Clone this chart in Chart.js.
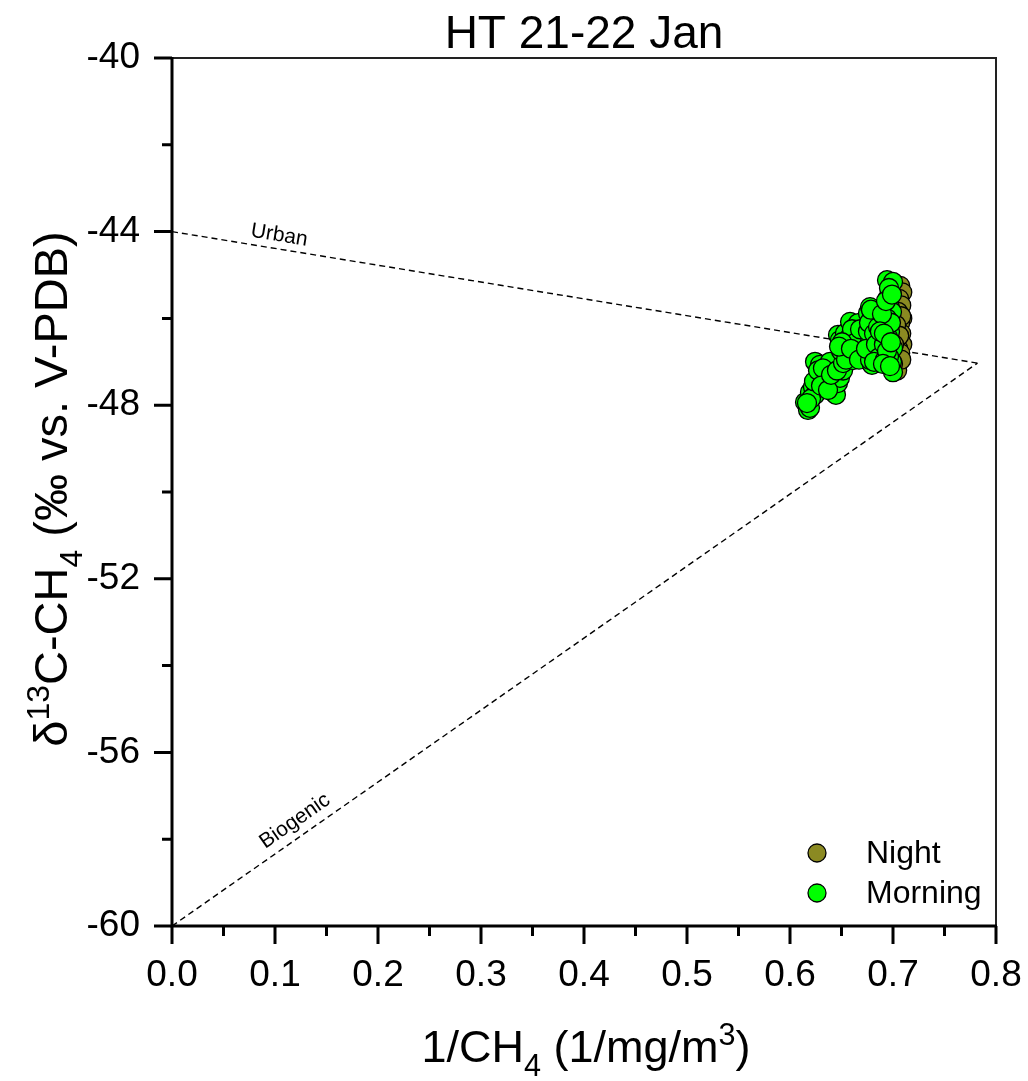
<!DOCTYPE html>
<html>
<head>
<meta charset="utf-8">
<script src="https://cdn.jsdelivr.net/npm/chart.js@4/dist/chart.umd.min.js"></script>
<style>
  html, body { margin: 0; padding: 0; background: #fff; }
  canvas { display: block; }
</style>
</head>
<body>
<canvas id="c" width="1028" height="1081"></canvas>
<script>
// ---- data ----
const chartTitle = 'HT 21-22 Jan';
const seriesNames = ['Night', 'Morning'];
const seriesColors = ['#8b8a22', '#00ff00'];

const nightX = [0.707, 0.709, 0.706, 0.708, 0.705, 0.709, 0.707, 0.704, 0.708, 0.706, 0.709, 0.705,
                0.707, 0.703, 0.706, 0.702, 0.699, 0.704, 0.708, 0.703, 0.706, 0.708, 0.701, 0.700];
const nightY = [-45.25, -45.40, -45.55, -45.70, -45.85, -46.00, -46.10, -46.25, -46.35, -46.50, -46.60, -46.70,
                -46.80, -46.90, -47.00, -47.10, -47.15, -47.20, -45.95, -46.15, -46.40, -46.95, -46.60, -47.05];

const morningX = [0.6146, 0.6175, 0.6194, 0.6194, 0.6223, 0.6243, 0.6262, 0.6243, 0.6291, 0.6291,
                  0.6340, 0.6359, 0.6388, 0.6417, 0.6446, 0.6466, 0.6485, 0.6515, 0.6437, 0.6388,
                  0.6204, 0.6165, 0.6233, 0.6272, 0.6320, 0.6301, 0.6369, 0.6398, 0.6456,
                  0.6466, 0.6485, 0.6534, 0.6583, 0.6612, 0.6631, 0.6631, 0.6566, 0.6515, 0.6660,
                  0.6612, 0.6549, 0.6709, 0.6690,
                  0.6495, 0.6544, 0.6573, 0.6602, 0.6641, 0.6680, 0.6505, 0.6476, 0.6592, 0.6670,
                  0.6757, 0.6777, 0.6796, 0.6806, 0.6777, 0.6806, 0.6796, 0.6777, 0.6757, 0.6840,
                  0.6825, 0.6845,
                  0.6738, 0.6767, 0.6816, 0.6835, 0.6855, 0.6864, 0.6786, 0.6816,
                  0.6942, 0.7000, 0.6951, 0.6971, 0.6990, 0.6942, 0.6971, 0.7000, 0.6951, 0.6990,
                  0.6961, 0.7000, 0.6912, 0.6932, 0.6980, 0.6922, 0.6893, 0.6873,
                  0.6961, 0.6932, 0.6990, 0.6912, 0.6942, 0.6980, 0.6903, 0.6971];
const morningY = [-47.93, -48.11, -48.06, -47.70, -47.58, -47.76, -47.03, -47.00, -47.07, -47.30,
                  -47.49, -47.37, -47.60, -47.70, -47.76, -47.49, -47.37, -47.20, -47.10, -47.00,
                  -47.85, -47.95, -47.45, -47.20, -47.15, -47.55, -47.65, -47.30, -47.20,
                  -46.38, -46.50, -46.34, -46.08, -46.66, -46.34, -46.77, -46.90, -47.03, -46.11,
                  -46.96, -46.60, -46.80, -46.50,
                  -46.75, -46.95, -46.45, -46.25, -46.55, -46.25, -46.55, -46.65, -46.70, -46.95,
                  -45.88, -45.74, -46.22, -45.97, -46.54, -46.66, -47.07, -46.96, -46.30, -46.08,
                  -46.80, -46.43,
                  -46.70, -46.10, -46.35, -46.60, -46.20, -46.90, -45.80, -47.00,
                  -45.12, -45.16, -45.53, -45.76, -45.85, -46.00, -46.31, -46.68, -46.43, -47.00,
                  -46.88, -47.24, -46.60, -46.20, -46.10, -46.95, -45.90, -46.30,
                  -45.30, -45.60, -45.45, -46.35, -46.75, -46.55, -47.05, -47.10];

// end-member mixing lines
const urbanX = [0, 0.782];
const urbanY = [-44, -47.03];
const biogenicX = [0, 0.782];
const biogenicY = [-60, -47.03];
const lineLabels = ['Urban', 'Biogenic'];

// axis ticks
const xTickValues = [0, 0.1, 0.2, 0.3, 0.4, 0.5, 0.6, 0.7, 0.8];
const xMinorValues = [0.05, 0.15, 0.25, 0.35, 0.45, 0.55, 0.65, 0.75];
const yTickValues = [-60, -56, -52, -48, -44, -40];
const yMinorValues = [-58, -54, -50, -46, -42];

const zip = (xs, ys) => xs.map((x, i) => ({ x: x, y: ys[i] }));

const FONT = '"Liberation Sans", Arial, Helvetica, sans-serif';

// draws a sequence of text runs (normal / sub / sup) centred on the origin
function drawRuns(ctx, runs, size, cx, cy) {
  const parts = runs.map(r => {
    const s = (r.sub || r.sup) ? size * 0.68 : size;
    ctx.font = s + 'px ' + FONT;
    return { t: r.t, s: s, w: ctx.measureText(r.t).width,
             dy: r.sub ? size * 0.32 : (r.sup ? -size * 0.38 : 0) };
  });
  const total = parts.reduce((a, p) => a + p.w, 0);
  let x = cx - total / 2;
  ctx.textAlign = 'left';
  ctx.textBaseline = 'alphabetic';
  parts.forEach(p => {
    ctx.font = p.s + 'px ' + FONT;
    ctx.fillText(p.t, x, cy + p.dy);
    x += p.w;
  });
}

const decorations = {
  id: 'decorations',
  afterDraw(chart) {
    const ctx = chart.ctx;
    const xs = chart.scales.x, ys = chart.scales.y;
    const a = chart.chartArea;
    ctx.save();
    ctx.fillStyle = '#000';

    // top and right frame
    ctx.lineWidth = 2;
    ctx.strokeStyle = '#222';
    ctx.beginPath();
    ctx.moveTo(a.left, a.top); ctx.lineTo(a.right, a.top); ctx.lineTo(a.right, a.bottom);
    ctx.stroke();

    // main axes
    ctx.strokeStyle = '#000';
    ctx.lineWidth = 3;
    ctx.beginPath();
    ctx.moveTo(a.left, a.top - 1); ctx.lineTo(a.left, a.bottom); ctx.lineTo(a.right + 1, a.bottom);
    ctx.stroke();

    // ticks (outward)
    ctx.beginPath();
    xTickValues.forEach(v => { const p = xs.getPixelForValue(v); ctx.moveTo(p, a.bottom); ctx.lineTo(p, a.bottom + 18); });
    xMinorValues.forEach(v => { const p = xs.getPixelForValue(v); ctx.moveTo(p, a.bottom); ctx.lineTo(p, a.bottom + 10); });
    yTickValues.forEach(v => { const p = ys.getPixelForValue(v); ctx.moveTo(a.left, p); ctx.lineTo(a.left - 18, p); });
    yMinorValues.forEach(v => { const p = ys.getPixelForValue(v); ctx.moveTo(a.left, p); ctx.lineTo(a.left - 10, p); });
    ctx.stroke();

    // title
    ctx.font = '46px ' + FONT;
    ctx.textAlign = 'center';
    ctx.textBaseline = 'alphabetic';
    ctx.fillText(chartTitle, (a.left + a.right) / 2, 48);

    // x axis title
    drawRuns(ctx, [{ t: '1/CH' }, { t: '4', sub: true }, { t: ' (1/mg/m' }, { t: '3', sup: true }, { t: ')' }],
             45, (a.left + a.right) / 2 + 2, 1062);

    // y axis title
    ctx.save();
    ctx.translate(67, (a.top + a.bottom) / 2 - 3);
    ctx.rotate(-Math.PI / 2);
    drawRuns(ctx, [{ t: 'δ' }, { t: '13', sup: true }, { t: 'C-CH' }, { t: '4', sub: true }, { t: ' (‰ vs. V-PDB)' }],
             47, 0, 0);
    ctx.restore();

    // labels along the mixing lines
    const lineSets = [[urbanX, urbanY, 0.102, -3], [biogenicX, biogenicY, 0.128, -5]];
    ctx.font = '21px ' + FONT;
    lineSets.forEach((ls, i) => {
      const [lx, ly, at, off] = ls;
      const x0 = xs.getPixelForValue(lx[0]), y0 = ys.getPixelForValue(ly[0]);
      const x1 = xs.getPixelForValue(lx[1]), y1 = ys.getPixelForValue(ly[1]);
      const ang = Math.atan2(y1 - y0, x1 - x0);
      const px = xs.getPixelForValue(at);
      const t = (px - x0) / (x1 - x0);
      const py = y0 + t * (y1 - y0);
      ctx.save();
      ctx.translate(px, py);
      ctx.rotate(ang);
      ctx.textAlign = 'center';
      ctx.textBaseline = 'bottom';
      ctx.fillText(lineLabels[i], 0, off);
      ctx.restore();
    });

    // legend
    const legendRows = [853, 893];
    seriesNames.forEach((name, i) => {
      ctx.beginPath();
      ctx.arc(817, legendRows[i], 9, 0, Math.PI * 2);
      ctx.fillStyle = seriesColors[i];
      ctx.fill();
      ctx.lineWidth = 1.3;
      ctx.strokeStyle = '#000';
      ctx.stroke();
      ctx.fillStyle = '#000';
      ctx.font = '32px ' + FONT;
      ctx.textAlign = 'left';
      ctx.textBaseline = 'middle';
      ctx.fillText(name, 866, legendRows[i] + 1);
    });
    ctx.restore();
  }
};

new Chart(document.getElementById('c'), {
  type: 'scatter',
  data: {
    datasets: [
      { label: seriesNames[0], data: zip(nightX, nightY), backgroundColor: seriesColors[0],
        borderColor: '#000', borderWidth: 1.3, pointRadius: 9.5, order: 2 },
      { label: seriesNames[1], data: zip(morningX, morningY), backgroundColor: seriesColors[1],
        borderColor: '#000', borderWidth: 1.3, pointRadius: 9.5, order: 1 },
      { label: lineLabels[0], data: zip(urbanX, urbanY), showLine: true, pointRadius: 0,
        borderColor: '#000', borderWidth: 1.4, borderDash: [6, 4], fill: false, order: 3 },
      { label: lineLabels[1], data: zip(biogenicX, biogenicY), showLine: true, pointRadius: 0,
        borderColor: '#000', borderWidth: 1.4, borderDash: [6, 4], fill: false, order: 3 }
    ]
  },
  options: {
    responsive: false,
    animation: false,
    devicePixelRatio: 1,
    layout: { padding: { top: 58, right: 32, left: 0, bottom: 0 } },
    plugins: { legend: { display: false }, tooltip: { enabled: false }, title: { display: false } },
    scales: {
      x: {
        type: 'linear', min: 0, max: 0.8,
        afterBuildTicks: s => { s.ticks = xTickValues.map(v => ({ value: v })); },
        afterFit: s => { s.height = 155; s.paddingLeft = 0; s.paddingRight = 0; },
        grid: { display: false }, border: { display: false },
        ticks: { color: '#000', padding: 20, maxRotation: 0, font: { family: FONT, size: 37 },
                 callback: v => Number(v).toFixed(1) }
      },
      y: {
        type: 'linear', min: -60, max: -40,
        afterBuildTicks: s => { s.ticks = yTickValues.map(v => ({ value: v })); },
        afterFit: s => { s.width = 172; s.paddingTop = 0; s.paddingBottom = 0; },
        grid: { display: false }, border: { display: false },
        ticks: { color: '#000', padding: 24, font: { family: FONT, size: 37 },
                 callback: v => Number(v).toFixed(0) }
      }
    }
  },
  plugins: [decorations]
});
</script>
</body>
</html>
